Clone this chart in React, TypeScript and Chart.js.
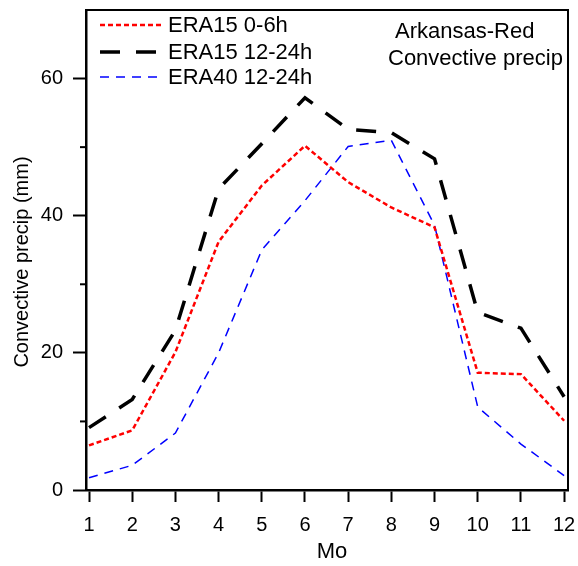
import { useEffect, useRef } from "react";
import { Chart, registerables } from "chart.js";

Chart.register(...registerables);

// Monthly convective precipitation, Arkansas-Red basin (mm)
const months = [1, 2, 3, 4, 5, 6, 7, 8, 9, 10, 11, 12];
const era15Short = [6.5, 8.7, 20.1, 36.2, 44.4, 50.2, 44.9, 41.2, 38.3, 17.1, 16.9, 10.1];
const era15Long = [9.1, 13.2, 23.3, 43.9, 50.5, 57.2, 52.6, 52.1, 48.3, 25.9, 23.6, 13.6];
const era40Long = [1.8, 3.6, 8.3, 20.0, 35.0, 42.2, 50.1, 51.0, 38.6, 12.1, 6.7, 2.1];

const seriesLabels = ["ERA15 0-6h", "ERA15 12-24h", "ERA40 12-24h"];
const yMajorTicks = [0, 20, 40, 60];
const yMinorTicks = [10, 30, 50];
const regionTitle = ["Arkansas-Red", "Convective precip"];
const xTitle = "Mo";
const yTitle = "Convective precip (mm)";

const FONT = "'Liberation Sans', Arial, sans-serif";

const seriesStyles = [
  { color: "#ff0000", width: 2.5, dash: [5, 3] },
  { color: "#000000", width: 3.5, dash: [20, 16] },
  { color: "#0000ff", width: 1.5, dash: [9, 7] },
];

const decorations = {
  id: "decorations",
  afterDraw(chart: any) {
    const { ctx, chartArea, scales } = chart;
    const { left, right, top, bottom } = chartArea;
    const yScale = scales.y;
    ctx.save();

    // top and right frame
    ctx.strokeStyle = "#000";
    ctx.lineWidth = 2;
    ctx.beginPath();
    ctx.moveTo(left, top);
    ctx.lineTo(right, top);
    ctx.lineTo(right, bottom);
    ctx.stroke();

    // minor y ticks
    for (const v of yMinorTicks) {
      const py = yScale.getPixelForValue(v);
      ctx.beginPath();
      ctx.moveTo(left - 6, py);
      ctx.lineTo(left, py);
      ctx.stroke();
    }

    // legend
    ctx.font = `22px ${FONT}`;
    ctx.textBaseline = "middle";
    ctx.textAlign = "left";
    const rowY = [top + 15, top + 42, top + 67];
    seriesLabels.forEach((label, i) => {
      const s = seriesStyles[i];
      ctx.strokeStyle = s.color;
      ctx.lineWidth = s.width;
      ctx.setLineDash(s.dash);
      ctx.beginPath();
      ctx.moveTo(left + 14, rowY[i]);
      ctx.lineTo(left + 76, rowY[i]);
      ctx.stroke();
      ctx.setLineDash([]);
      ctx.fillStyle = "#000";
      ctx.fillText(label, left + 82, rowY[i] + 1);
    });

    // region title
    ctx.fillText(regionTitle[0], right - 173, top + 22);
    ctx.fillText(regionTitle[1], right - 180, top + 49);

    // axis titles
    ctx.textAlign = "center";
    ctx.fillText(xTitle, (left + right) / 2 + 5, bottom + 62);
    ctx.font = `20px ${FONT}`;
    ctx.translate(22, (top + bottom) / 2 + 12);
    ctx.rotate(-Math.PI / 2);
    ctx.fillText(yTitle, 0, 0);

    ctx.restore();
  },
};

export default function App() {
  const canvasRef = useRef<HTMLCanvasElement | null>(null);

  useEffect(() => {
    document.body.style.margin = "0";
    if (!canvasRef.current) return;
    const toPoints = (vals: number[]) => months.map((m, i) => ({ x: m, y: vals[i] }));
    const seriesData = [era15Short, era15Long, era40Long];

    const chart = new Chart(canvasRef.current, {
      type: "line",
      data: {
        datasets: seriesData.map((vals, i) => ({
          label: seriesLabels[i],
          data: toPoints(vals),
          borderColor: seriesStyles[i].color,
          borderWidth: seriesStyles[i].width,
          borderDash: seriesStyles[i].dash,
          pointRadius: 0,
          tension: 0,
          fill: false,
        })),
      },
      options: {
        animation: false,
        responsive: false,
        maintainAspectRatio: false,
        layout: { padding: { top: 10, right: 10, left: 0, bottom: 0 } },
        plugins: {
          legend: { display: false },
          tooltip: { enabled: false },
        },
        scales: {
          x: {
            type: "linear",
            min: 0.93,
            max: 12.09,
            afterBuildTicks: (scale: any) => {
              scale.ticks = months.map((m) => ({ value: m }));
            },
            afterFit: (scale: any) => {
              scale.height = 76;
              scale.paddingLeft = 0;
              scale.paddingRight = 0;
            },
            grid: {
              display: true,
              drawOnChartArea: false,
              drawTicks: true,
              tickLength: 12,
              tickWidth: 2,
              color: "#000",
            },
            border: { display: true, color: "#000", width: 2.5 },
            ticks: {
              color: "#000",
              font: { family: FONT, size: 20 },
              padding: 11,
              maxRotation: 0,
              autoSkip: false,
              callback: (v: any) => String(v),
            },
          },
          y: {
            type: "linear",
            min: 0,
            max: 70,
            afterBuildTicks: (scale: any) => {
              scale.ticks = yMajorTicks.map((v) => ({ value: v }));
            },
            afterFit: (scale: any) => {
              scale.width = 86;
              scale.paddingTop = 0;
              scale.paddingBottom = 0;
            },
            grid: {
              display: true,
              drawOnChartArea: false,
              drawTicks: true,
              tickLength: 13,
              tickWidth: 2,
              color: "#000",
            },
            border: { display: true, color: "#000", width: 2.5 },
            ticks: {
              color: "#000",
              font: { family: FONT, size: 20 },
              padding: 10,
              callback: (v: any) => String(v),
            },
          },
        },
      },
      plugins: [decorations],
    });
    return () => chart.destroy();
  }, []);

  return (
    <div style={{ width: 578, height: 566, overflow: "hidden" }}>
      <canvas ref={canvasRef} width={578} height={566} style={{ display: "block" }} />
    </div>
  );
}
